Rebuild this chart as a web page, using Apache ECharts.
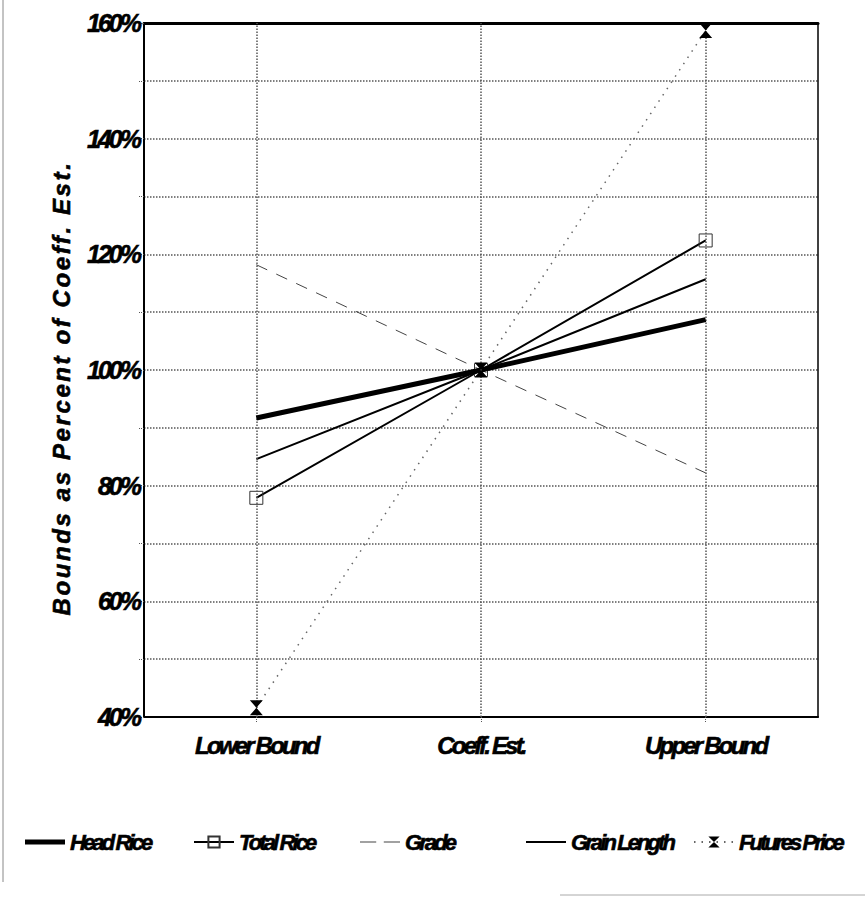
<!DOCTYPE html>
<html>
<head>
<meta charset="utf-8">
<script src="https://cdn.jsdelivr.net/npm/echarts@6/dist/echarts.min.js"></script>
<style>
html,body{margin:0;padding:0;background:#fff;}
#chart{width:865px;height:897px;}
</style>
</head>
<body>
<div id="chart"></div>
<script>
const categories = ['Lower Bound', 'Coeff. Est.', 'Upper Bound'];
const headRice = [91.7, 100, 108.7];
const totalRice = [77.9, 100, 122.4];
const grade = [118.2, 100, 82.2];
const grainLength = [84.6, 100, 115.7];
const futuresPrice = [41.6, 100, 158.7];
const seriesNames = ['Head Rice', 'Total Rice', 'Grade', 'Grain Length', 'Futures Price'];
const yTitle = 'Bounds as Percent of Coeff. Est.';

const FONT = "'Liberation Sans', Arial, sans-serif";
const hourglass = 'path://M0,0 L10,0 L5,6 L10,12 L0,12 L5,6 Z';

const chart = echarts.init(document.getElementById('chart'), null, {renderer: 'svg'});

const legendLeft = [20, 188, 355, 521, 688];
const legendIcons = [
  'path://M0,0 L40,0 L40,5 L0,5 Z',
  null,
  'path://M0,0 L15,0 L15,1 L0,1 Z M22,0 L37,0 L37,1 L22,1 Z',
  'path://M0,0 L40,0 L40,2 L0,2 Z',
  null
];
const legendText = {fontFamily: FONT, fontSize: 22, fontStyle: 'italic', fontWeight: 'bold', color: '#000'};

const option = {
  animation: false,
  backgroundColor: '#fff',
  grid: {left: 144, right: 47, top: 23, bottom: 180, show: false},
  legend: seriesNames.map((n, i) => ({
    data: [legendIcons[i] ? {name: n, icon: legendIcons[i]} : {name: n}],
    left: legendLeft[i], top: 826, itemWidth: 40, itemHeight: 14, itemGap: 12,
    textStyle: legendText, selectedMode: false
  })),
  graphic: [
    {type: 'line', shape: {x1: 3, y1: 0, x2: 3, y2: 882}, style: {stroke: '#888', lineWidth: 1}},
    {type: 'line', shape: {x1: 560, y1: 895, x2: 865, y2: 895}, style: {stroke: '#aaa', lineWidth: 1}}
  ],
  xAxis: [{
    type: 'category', data: categories, boundaryGap: true,
    axisLine: {lineStyle: {color: '#000', width: 2}},
    axisTick: {show: true, alignWithLabel: true, length: 6, lineStyle: {color: '#555', type: 'dotted'}},
    axisLabel: {fontFamily: FONT, fontSize: 24, fontStyle: 'italic', fontWeight: 'bold', color: '#000', margin: 16},
    splitLine: {show: false}
  }, {
    type: 'category', data: categories, position: 'top', boundaryGap: true,
    axisLine: {lineStyle: {color: '#000', width: 3}},
    axisTick: {show: false}, axisLabel: {show: false}, splitLine: {show: false}
  }],
  yAxis: [{
    type: 'value', min: 40, max: 160, interval: 10,
    name: yTitle, nameLocation: 'middle', nameGap: 71, nameRotate: 90, nameMoveOverlap: false,
    nameTextStyle: {fontFamily: FONT, fontSize: 24, fontStyle: 'italic', fontWeight: 'bold', color: '#000', padding: [0, 36, 0, 0]},
    axisLine: {show: true, lineStyle: {color: '#000', width: 2}},
    axisTick: {show: true, length: 6, lineStyle: {color: '#555', type: 'dotted'}},
    axisLabel: {
      fontFamily: FONT, fontSize: 25, fontStyle: 'italic', fontWeight: 'bold', color: '#000', margin: 5,
      formatter: v => (v % 20 === 0 ? v + '%' : '')
    },
    splitLine: {show: true, lineStyle: {color: '#555', type: 'dotted', width: 1.5}}
  }, {
    type: 'value', min: 40, max: 160, interval: 10, position: 'right',
    axisLine: {show: true, lineStyle: {color: '#000', width: 1.5}},
    axisTick: {show: false}, axisLabel: {show: false}, splitLine: {show: false}
  }],
  series: [
    {
      name: 'Head Rice', type: 'line', data: headRice, symbol: 'none', z: 5,
      lineStyle: {color: '#000', width: 5}, itemStyle: {color: '#000'},
      markLine: {
        silent: true, symbol: 'none', label: {show: false},
        lineStyle: {color: '#555', type: 'dotted', width: 1.5},
        data: categories.map(c => ({xAxis: c}))
      }
    },
    {
      name: 'Total Rice', type: 'line', data: totalRice, symbol: 'rect', symbolSize: 13, showSymbol: true,
      lineStyle: {color: '#000', width: 2},
      itemStyle: {color: 'rgba(0,0,0,0)', borderColor: '#333', borderWidth: 1}
    },
    {
      name: 'Grade', type: 'line', data: grade, symbol: 'none',
      lineStyle: {color: '#444', width: 1, type: [12, 10]}, itemStyle: {color: '#444'}
    },
    {
      name: 'Grain Length', type: 'line', data: grainLength, symbol: 'none',
      lineStyle: {color: '#000', width: 2}, itemStyle: {color: '#000'}
    },
    {
      name: 'Futures Price', type: 'line', data: futuresPrice, symbol: hourglass, symbolSize: [13, 15],
      lineStyle: {color: '#666', width: 1.5, type: [1.5, 6]}, itemStyle: {color: '#000'}, z: 6
    }
  ]
};
chart.setOption(option);

function applySpacing() {
  document.querySelectorAll('#chart text').forEach(t => {
    const s = t.textContent || '';
    let ls = null;
    if (s === yTitle) ls = '2.6px';
    else if (/%$/.test(s)) ls = '-3px';
    else if (categories.indexOf(s) >= 0) ls = '-2.8px';
    else if (seriesNames.indexOf(s) >= 0) ls = '-2.9px';
    if (ls !== null) {
      t.style.letterSpacing = ls;
      t.style.stroke = '#000';
      t.style.strokeWidth = '0.6px';
    }
  });
}
applySpacing();
chart.on('finished', applySpacing);
setTimeout(applySpacing, 0);
</script>
</body>
</html>
